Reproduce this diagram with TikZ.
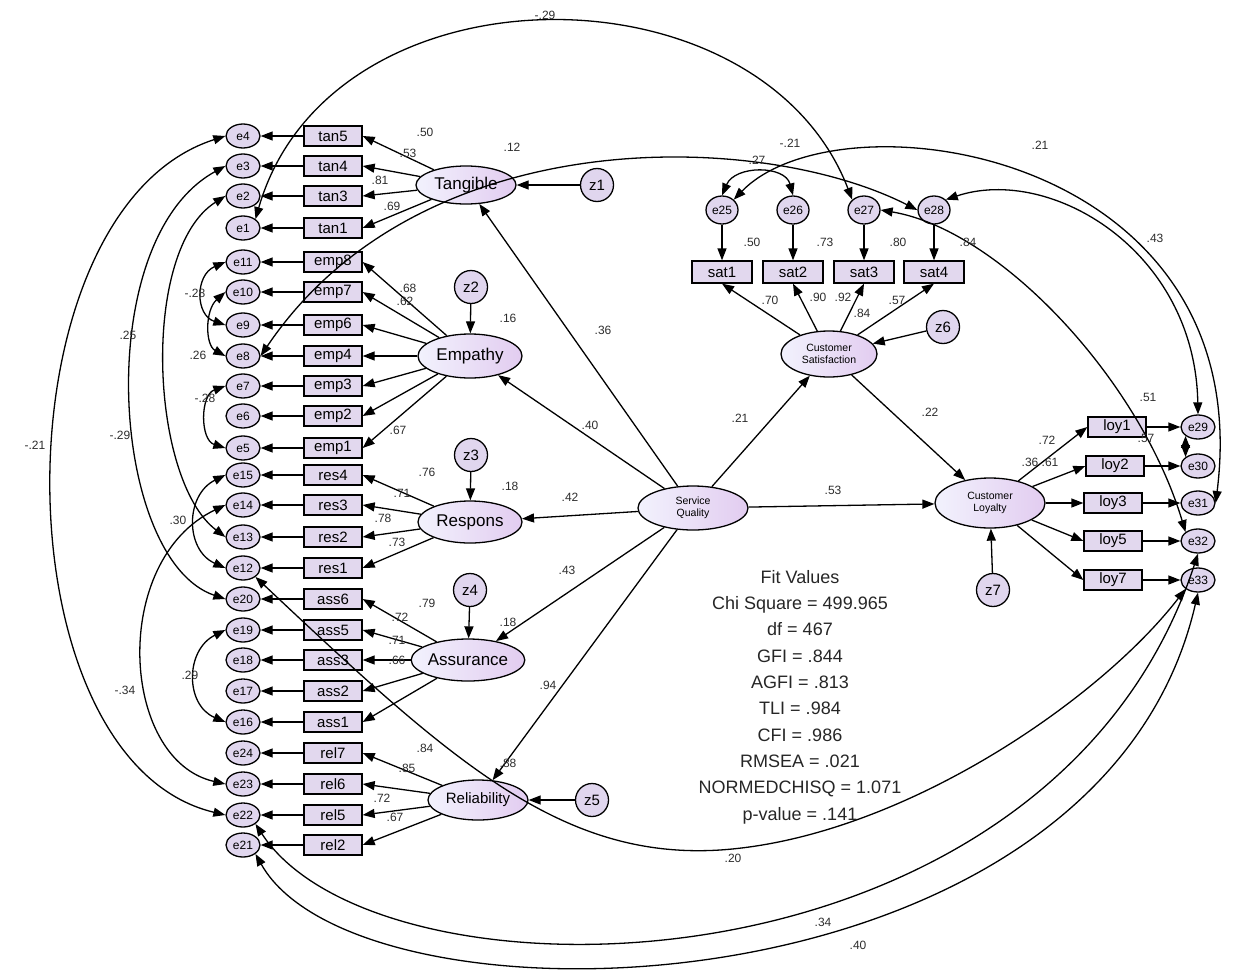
\documentclass[tikz,border=0pt]{standalone}
\usepackage{fontspec}
\setmainfont{Liberation Sans}
\usetikzlibrary{shapes.geometric,arrows.meta}
\definecolor{latA}{RGB}{242,242,253}
\definecolor{latB}{RGB}{226,204,240}
\definecolor{itmfill}{RGB}{226,216,238}
\definecolor{errfill}{RGB}{224,214,238}
\definecolor{lblc}{RGB}{45,45,45}
\begin{document}
\begin{tikzpicture}[x=1pt,y=-1pt,line width=1.3pt,
  >={Triangle[length=12pt,width=9pt]},
  err/.style={ellipse,draw,fill=errfill,minimum width=34pt,minimum height=24pt,inner sep=0pt,font=\fontsize{12}{12}\selectfont},
  itm/.style={rectangle,draw,fill=itmfill,minimum width=58pt,minimum height=20pt,inner sep=0pt,font=\fontsize{15}{15}\selectfont},
  lat/.style={ellipse,draw,left color=latA,right color=latB,inner sep=0pt,font=\fontsize{17}{17}\selectfont},
  latsm/.style={lat,align=center,font=\fontsize{10.5}{11.5}\selectfont},
  dist/.style={circle,draw,fill=errfill,minimum size=33pt,inner sep=0pt,font=\fontsize{15}{15}\selectfont},
  lbl/.style={font=\fontsize{12}{12}\selectfont,text=lblc,inner sep=0pt},
  cov/.style={<->}]
\useasboundingbox (0,0) rectangle (1241,974);

% ---------- latent variables ----------
\node[lat,minimum width=100pt,minimum height=38pt] (Tan) at (466,185) {Tangible};
\node[lat,minimum width=104pt,minimum height=44pt] (Emp) at (470,356) {Empathy};
\node[lat,minimum width=104pt,minimum height=42pt] (Res) at (470,522) {Respons};
\node[lat,minimum width=104pt,minimum height=42pt] (Ass) at (468,660) {Assurance};
\node[lat,minimum width=100pt,minimum height=40pt,font=\fontsize{15}{15}\selectfont] (Rel) at (478,800) {Reliability};
\node[latsm,minimum width=110pt,minimum height=44pt] (SQ) at (693,508) {Service\\Quality};
\node[latsm,minimum width=96pt,minimum height=46pt] (CS) at (829,354) {Customer\\Satisfaction};
\node[latsm,minimum width=110pt,minimum height=50pt] (CL) at (990,503) {Customer\\Loyalty};

% ---------- disturbances ----------
\node[dist] (z1) at (597,185) {z1};
\node[dist] (z2) at (471,287) {z2};
\node[dist] (z3) at (471,455) {z3};
\node[dist] (z4) at (470,590) {z4};
\node[dist] (z5) at (592,800) {z5};
\node[dist] (z6) at (943,327) {z6};
\node[dist] (z7) at (993,590) {z7};
\draw[->] (z1) -- (Tan);
\draw[->] (z2) -- (Emp);
\draw[->] (z3) -- (Res);
\draw[->] (z4) -- (Ass);
\draw[->] (z5) -- (Rel);
\draw[->] (z6) -- (CS);
\draw[->] (z7) -- (CL);

% ---------- left column: items and errors ----------
\foreach \e/\i/\y in {e4/tan5/136,e3/tan4/166,e2/tan3/196,e1/tan1/228,
  e11/emp8/262,e10/emp7/292,e9/emp6/325,e8/emp4/356,e7/emp3/386,e6/emp2/416,e5/emp1/448,
  e15/res4/475,e14/res3/505,e13/res2/537,e12/res1/568,
  e20/ass6/599,e19/ass5/630,e18/ass3/660,e17/ass2/691,e16/ass1/722,
  e24/rel7/753,e23/rel6/784,e22/rel5/815,e21/rel2/845}{
  \node[err] (\e) at (243,\y) {\e};
  \node[itm] (\i) at (333,\y) {\i};
  \draw[->] (\i) -- (\e);
}
\foreach \i in {tan5,tan4,tan3,tan1}{\draw[->] (Tan) -- (\i.east);}
\foreach \i in {emp8,emp7,emp6,emp4,emp3,emp2,emp1}{\draw[->] (Emp) -- (\i.east);}
\foreach \i in {res4,res3,res2,res1}{\draw[->] (Res) -- (\i.east);}
\foreach \i in {ass6,ass5,ass3,ass2,ass1}{\draw[->] (Ass) -- (\i.east);}
\foreach \i in {rel7,rel6,rel5,rel2}{\draw[->] (Rel) -- (\i.east);}

% ---------- satisfaction ----------
\foreach \e/\s/\x in {e25/sat1/722,e26/sat2/793,e27/sat3/864,e28/sat4/934}{
  \node[err,minimum width=32pt,minimum height=28pt] (\e) at (\x,210) {\e};
  \node[itm,minimum width=60pt,minimum height=22pt] (\s) at (\x,272) {\s};
  \draw[->] (\e) -- (\s);
  \draw[->] (CS) -- (\s.south);
}

% ---------- loyalty ----------
\foreach \s/\e/\x/\y in {loy1/e29/1117/427,loy2/e30/1115/466,loy3/e31/1113/503,loy5/e32/1113/541,loy7/e33/1113/580}{
  \node[itm,minimum width=58pt] (\s) at (\x,\y) {\s};
  \node[err] (\e) at (1198,\y) {\e};
  \draw[->] (\s) -- (\e);
  \draw[->] (CL) -- (\s.west);
}

% ---------- structural paths ----------
\draw[->] (SQ) -- (Tan);
\draw[->] (SQ) -- (Emp);
\draw[->] (SQ) -- (Res);
\draw[->] (SQ) -- (Ass);
\draw[->] (SQ) -- (Rel);
\draw[->] (SQ) -- (CS);
\draw[->] (SQ) -- (CL);
\draw[->] (CS) -- (CL);

% ---------- covariances ----------
\draw[cov] (e1.north east) .. controls (330,-40) and (760,-40) .. (e27.north west);
\draw[cov] (e8.east) .. controls (420,120) and (760,130) .. (e28.west);
\draw[cov] (e25.north) .. controls (735,165) and (785,165) .. (e26.north);
\draw[cov] (e25.north east) .. controls (840,90) and (1260,150) .. (e31.east);
\draw[cov] (e28.north east) .. controls (1050,165) and (1195,250) .. (e29.north);
\draw[cov] (e27.east) .. controls (1000,230) and (1140,380) .. (e32.north west);
\draw[cov] (e29.south west) -- (e30.north west);
\draw[cov] (e12.south east) .. controls (450,760) and (560,860) .. (720,850) .. controls (900,838) and (1100,700) .. (e33.south west);
\draw[cov] (e22.south east) .. controls (380,1015) and (1050,1005) .. (e32.south);
\draw[cov] (e21.south east) .. controls (360,1040) and (1100,1020) .. (e33.south);
\draw[cov] (e4.west) .. controls (-5,210) and (-5,760) .. (e22.west);
\draw[cov] (e3.west) .. controls (90,240) and (110,560) .. (e20.west);
\draw[cov] (e2.west) .. controls (140,250) and (150,480) .. (e13.west);
\draw[cov] (e14.west) .. controls (110,560) and (120,760) .. (e23.west);
\draw[cov] (e15.west) .. controls (185,495) and (185,550) .. (e12.west);
\draw[cov] (e19.west) .. controls (185,650) and (185,705) .. (e16.west);
\draw[cov] (e11.west) .. controls (195,275) and (195,315) .. (e9.west);
\draw[cov] (e10.west) .. controls (205,310) and (205,345) .. (e8.west);
\draw[cov] (e7.west) .. controls (200,395) and (200,440) .. (e5.west);

% ---------- labels ----------
\node[lbl] (l1) at (545,15) {-.29};
\node[lbl] (l2) at (790,143) {-.21};
\node[lbl] (l3) at (757,160) {.27};
\node[lbl] (l4) at (1040,145) {.21};
\node[lbl] (l5) at (1155,238) {.43};
\node[lbl] (l6) at (733,858) {.20};
\node[lbl] (l7) at (823,922) {.34};
\node[lbl] (l8) at (858,945) {.40};
\node[lbl] (l9) at (35,445) {-.21};
\node[lbl] (l10) at (120,435) {-.29};
\node[lbl] (l11) at (128,335) {.25};
\node[lbl] (l12) at (125,690) {-.34};
\node[lbl] (l13) at (178,520) {.30};
\node[lbl] (l14) at (190,675) {.29};
\node[lbl] (l15) at (195,293) {-.28};
\node[lbl] (l16) at (198,355) {.26};
\node[lbl] (l17) at (205,398) {-.28};
% structural
\node[lbl] (s1) at (603,330) {.36};
\node[lbl] (s2) at (590,425) {.40};
\node[lbl] (s3) at (570,497) {.42};
\node[lbl] (s4) at (567,570) {.43};
\node[lbl] (s5) at (548,685) {.94};
\node[lbl] (s6) at (740,418) {.21};
\node[lbl] (s7) at (833,490) {.53};
\node[lbl] (s8) at (930,412) {.22};
% R squared
\node[lbl] (r1) at (512,147) {.12};
\node[lbl] (r2) at (508,318) {.16};
\node[lbl] (r3) at (510,486) {.18};
\node[lbl] (r4) at (508,622) {.18};
\node[lbl] (r5) at (508,763) {.88};
% loadings left
\node[lbl] (m1) at (425,132) {.50};
\node[lbl] (m2) at (408,153) {.53};
\node[lbl] (m3) at (380,180) {.81};
\node[lbl] (m4) at (392,206) {.69};
\node[lbl] (m5) at (408,288) {.68};
\node[lbl] (m6) at (405,301) {.62};
\node[lbl] (m7) at (398,430) {.67};
\node[lbl] (m8) at (427,472) {.76};
\node[lbl] (m9) at (402,493) {.71};
\node[lbl] (m10) at (383,518) {.78};
\node[lbl] (m11) at (397,542) {.73};
\node[lbl] (m12) at (427,603) {.79};
\node[lbl] (m13) at (400,617) {.72};
\node[lbl] (m14) at (397,640) {.71};
\node[lbl] (m15) at (397,660) {.66};
\node[lbl] (m16) at (425,748) {.84};
\node[lbl] (m17) at (407,768) {.85};
\node[lbl] (m18) at (382,798) {.72};
\node[lbl] (m19) at (395,817) {.67};
% satisfaction
\node[lbl] (n1) at (752,242) {.50};
\node[lbl] (n2) at (825,242) {.73};
\node[lbl] (n3) at (898,242) {.80};
\node[lbl] (n4) at (968,242) {.84};
\node[lbl] (n5) at (770,300) {.70};
\node[lbl] (n6) at (818,297) {.90};
\node[lbl] (n7) at (843,297) {.92};
\node[lbl] (n8) at (862,313) {.84};
\node[lbl] (n9) at (897,300) {.57};
% loyalty
\node[lbl] (o1) at (1047,440) {.72};
\node[lbl] (o2) at (1030,462) {.36};
\node[lbl] (o3) at (1050,462) {.61};
\node[lbl] (o4) at (1148,397) {.51};
\node[lbl] (o5) at (1146,438) {.57};

% ---------- fit values ----------
\node[align=center,font=\fontsize{18}{26.3}\selectfont,text=black!85] (fit) at (800,697)
 {Fit Values\\Chi Square = 499.965\\df = 467\\GFI = .844\\AGFI = .813\\TLI = .984\\CFI = .986\\RMSEA = .021\\NORMEDCHISQ = 1.071\\p-value = .141};
\end{tikzpicture}
\end{document}
